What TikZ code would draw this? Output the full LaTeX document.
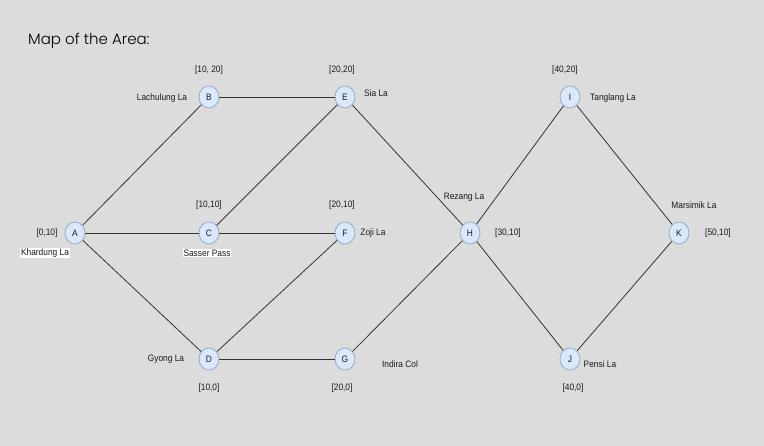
\documentclass[tikz,border=0pt]{standalone}
\usepackage{fontspec}
\setmainfont{Liberation Sans}
\newfontfamily\lblfont[FakeStretch=0.9]{Liberation Sans}
\newfontfamily\titlefont{Poppins Light}
\usetikzlibrary{shapes.geometric}
\definecolor{bgc}{HTML}{DCDCDC}
\definecolor{nfill}{HTML}{DAE8FC}
\definecolor{ndraw}{HTML}{9DAFC8}
\definecolor{edgec}{HTML}{333333}
\definecolor{txtc}{HTML}{1A1A1A}
\tikzset{
  pt/.style={ellipse, draw=ndraw, fill=nfill, line width=0.9pt, minimum width=20pt, minimum height=22pt, inner sep=0pt, font=\lblfont\fontsize{9.3}{10}\selectfont, text=txtc},
  lbl/.style={font=\lblfont\fontsize{9.3}{10}\selectfont, text=txtc, inner sep=1pt},
  wlbl/.style={lbl, fill=white},
  edge/.style={draw=edgec, line width=0.8pt}
}
\begin{document}
\begin{tikzpicture}[x=1pt,y=-1pt]
\fill[bgc] (0,0) rectangle (764,446);
\useasboundingbox (0,0) rectangle (764,446);
\node[anchor=west, font=\titlefont\fontsize{15}{17}\selectfont, text=black, inner sep=0pt] (title) at (28,41) {Map of the Area:};
% nodes
\node[pt] (A) at (75,233) {A};
\node[pt] (B) at (209,97) {B};
\node[pt] (C) at (209,233) {C};
\node[pt] (D) at (209,359) {D};
\node[pt] (E) at (345,97) {E};
\node[pt] (F) at (345,233) {F};
\node[pt] (G) at (345,359) {G};
\node[pt] (H) at (470,233) {H};
\node[pt] (I) at (570,97) {I};
\node[pt] (J) at (570,359) {J};
\node[pt] (K) at (679,233) {K};
% edges
\draw[edge] (A) -- (B);
\draw[edge] (A) -- (C);
\draw[edge] (A) -- (D);
\draw[edge] (B) -- (E);
\draw[edge] (C) -- (E);
\draw[edge] (C) -- (F);
\draw[edge] (D) -- (F);
\draw[edge] (D) -- (G);
\draw[edge] (E) -- (H);
\draw[edge] (G) -- (H);
\draw[edge] (H) -- (I);
\draw[edge] (H) -- (J);
\draw[edge] (I) -- (K);
\draw[edge] (J) -- (K);
% labels
\node[lbl] (lB) at (209,70) {[10, 20]};
\node[lbl] (nB) at (162,98) {Lachulung La};
\node[lbl] (lE) at (342,70) {[20,20]};
\node[lbl] (nE) at (376,93) {Sia La};
\node[lbl] (lI) at (565,70) {[40,20]};
\node[lbl] (nI) at (613,98) {Tanglang La};
\node[lbl] (nH) at (464,197) {Rezang La};
\node[lbl] (nK) at (694,205) {Marsimik La};
\node[lbl] (lC) at (209,205) {[10,10]};
\node[lbl] (lF) at (342,205) {[20,10]};
\node[lbl] (lA) at (47,233) {[0,10]};
\node[wlbl] (nA) at (45,253) {Khardung La};
\node[wlbl] (nC) at (207,253) {Sasser Pass};
\node[lbl] (nF) at (373,233) {Zoji La};
\node[lbl] (lH) at (508,233) {[30,10]};
\node[lbl] (lK) at (718,233) {[50,10]};
\node[lbl] (nD) at (166,359) {Gyong La};
\node[lbl] (nG) at (400,364) {Indira Col};
\node[lbl] (nJ) at (600,364) {Pensi La};
\node[lbl] (lD) at (209,388) {[10,0]};
\node[lbl] (lG) at (342,388) {[20,0]};
\node[lbl] (lJ) at (573,388) {[40,0]};
\end{tikzpicture}
\end{document}
